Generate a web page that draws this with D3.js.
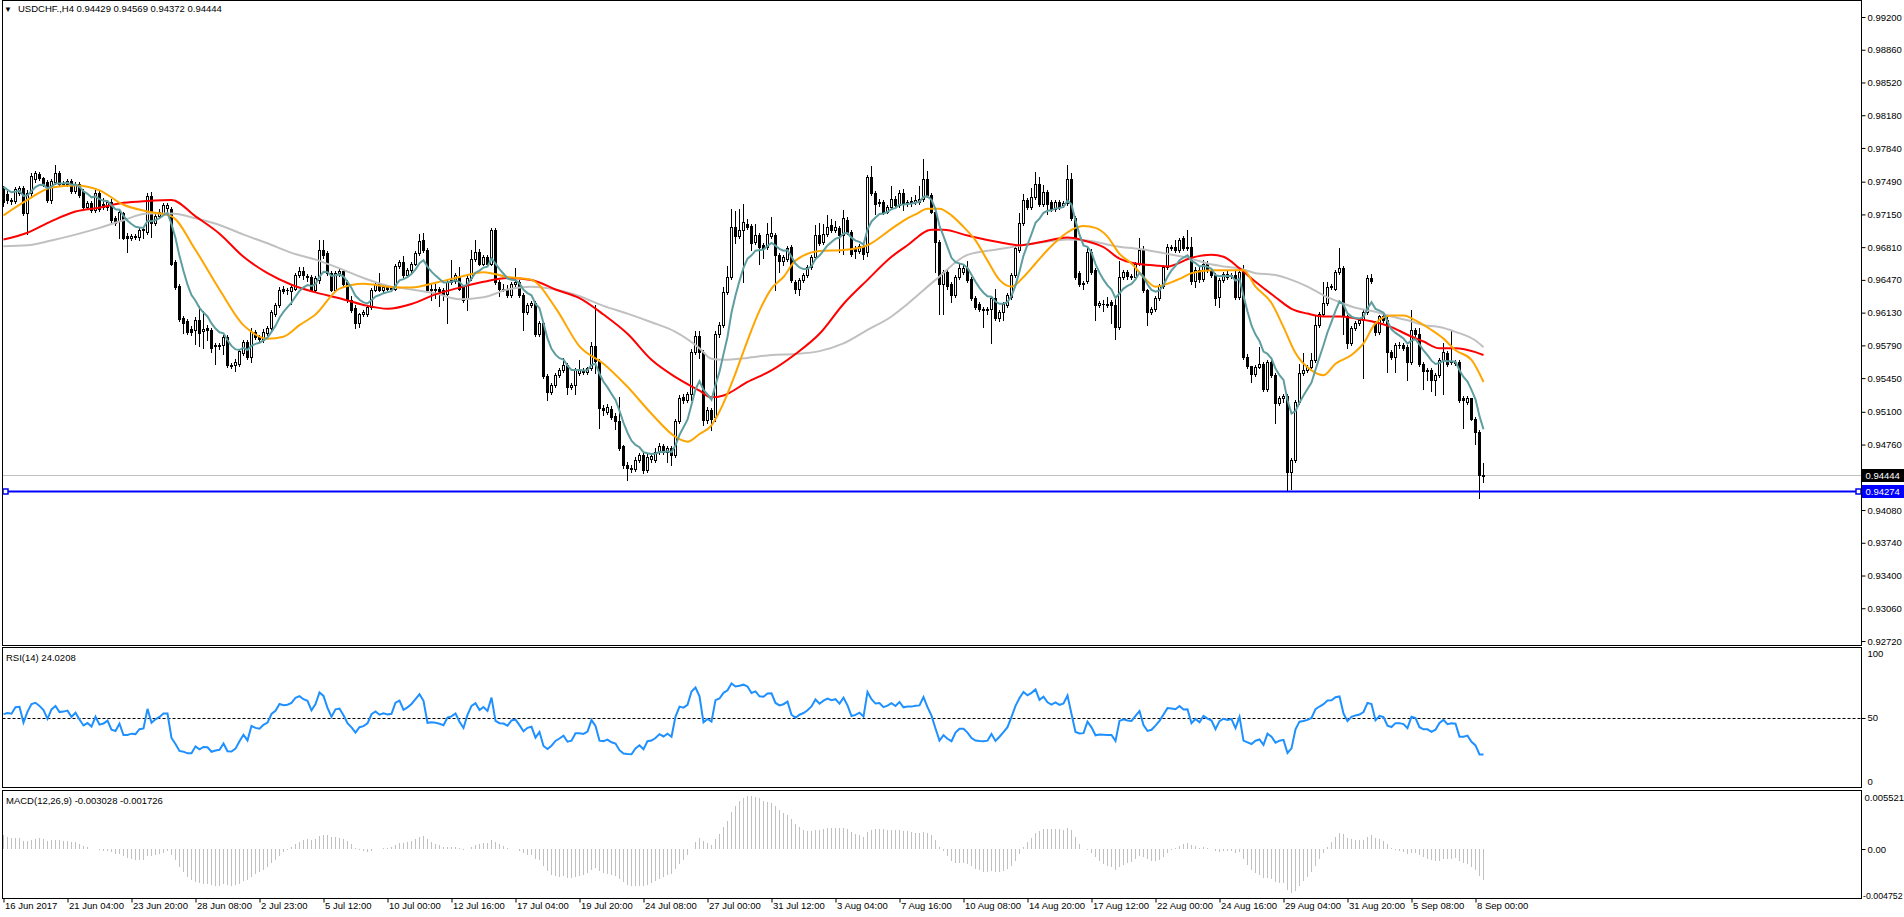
<!DOCTYPE html>
<html><head><meta charset="utf-8">
<script src="https://cdn.jsdelivr.net/npm/d3@7"></script>
<style>
html,body{margin:0;padding:0;background:#fff;}
svg{display:block;}
text{font-family:"Liberation Sans",Arial,sans-serif;font-size:9.5px;fill:#000;}
</style></head><body>
<svg id="c" width="1904" height="917"></svg>
<script>
// ===== DATA (prices x 10000, one entry per H4 bar, oldest first) =====
const opens=[
9741,9736,9730,9729,9737,9742,9716,9737,9752,9757,
9753,9749,9730,9749,9758,9747,9747,9750,9739,9747,
9739,9723,9727,9720,9737,9726,9723,9728,9711,9708,
9716,9693,9691,9693,9692,9699,9697,9734,9706,9713,
9716,9722,9721,9666,9641,9607,9604,9596,9595,9605,
9594,9597,9595,9579,9578,9579,9588,9559,9559,9560,
9571,9583,9567,9593,9588,9585,9592,9597,9612,9621,
9638,9637,9635,9638,9652,9656,9651,9650,9637,9647,
9678,9675,9654,9637,9654,9656,9645,9626,9618,9602,
9612,9612,9619,9637,9643,9637,9640,9638,9638,9661,
9666,9652,9657,9664,9675,9688,9678,9637,9638,9638,
9637,9632,9645,9646,9650,9640,9628,9649,9669,9676,
9664,9671,9664,9699,9645,9638,9637,9631,9643,9645,
9631,9614,9621,9623,9591,9602,9547,9531,9538,9548,
9553,9559,9536,9538,9550,9552,9551,9555,9578,9563,
9514,9510,9513,9506,9500,9474,9455,9452,9451,9460,
9465,9450,9461,9460,9468,9474,9468,9472,9465,9500,
9525,9522,9529,9572,9589,9572,9501,9512,9505,9591,
9600,9634,9650,9702,9693,9699,9705,9703,9686,9694,
9683,9681,9693,9694,9673,9667,9669,9681,9645,9638,
9647,9652,9660,9671,9694,9686,9695,9704,9699,9701,
9694,9709,9697,9680,9677,9682,9676,9754,9737,9727,
9728,9718,9723,9731,9725,9737,9727,9729,9728,9728,
9731,9752,9735,9718,9686,9643,9655,9643,9631,9650,
9655,9659,9648,9628,9622,9617,9616,9617,9628,9607,
9614,9621,9629,9652,9678,9706,9730,9723,9733,9747,
9726,9738,9728,9721,9728,9725,9727,9752,9711,9654,
9643,9646,9676,9657,9621,9622,9622,9624,9621,9598,
9650,9655,9651,9650,9664,9678,9636,9614,9617,9628,
9641,9660,9681,9681,9678,9690,9680,9681,9646,9657,
9648,9664,9657,9652,9629,9647,9653,9651,9652,9629,
9655,9567,9558,9549,9557,9560,9534,9562,9548,9519,
9524,9526,9448,9460,9520,9550,9553,9557,9564,9600,
9612,9623,9640,9638,9655,9659,9609,9581,9597,9602,
9605,9614,9649,9602,9593,9609,9605,9572,9567,9579,
9579,9577,9562,9595,9591,9560,9553,9553,9543,9548,
9564,9571,9562,9562,9562,9524,9520,9524,9503,9489,
9443];
const highs=[
9745,9741,9732,9743,9744,9744,9740,9758,9760,9759,
9754,9751,9752,9766,9760,9750,9752,9752,9749,9749,
9741,9729,9729,9740,9740,9732,9730,9731,9713,9720,
9718,9696,9695,9695,9701,9702,9737,9738,9716,9721,
9727,9727,9723,9668,9643,9609,9606,9599,9608,9620,
9615,9600,9597,9581,9581,9590,9590,9561,9565,9575,
9585,9585,9597,9595,9590,9596,9599,9616,9623,9640,
9641,9639,9642,9654,9660,9660,9653,9652,9651,9688,
9688,9677,9656,9656,9658,9658,9647,9630,9621,9613,
9616,9621,9639,9645,9654,9642,9642,9641,9663,9668,
9672,9659,9666,9677,9695,9696,9680,9643,9643,9640,
9639,9647,9668,9654,9660,9642,9651,9678,9688,9679,
9673,9673,9701,9701,9647,9643,9642,9645,9659,9647,
9633,9623,9625,9625,9604,9604,9549,9540,9550,9555,
9566,9561,9540,9555,9564,9555,9557,9583,9621,9565,
9517,9518,9516,9509,9525,9476,9458,9455,9463,9467,
9467,9466,9467,9472,9478,9477,9475,9474,9503,9527,
9529,9531,9575,9594,9594,9574,9515,9514,9594,9603,
9640,9661,9721,9719,9721,9726,9710,9705,9705,9696,
9685,9706,9712,9696,9675,9673,9682,9683,9647,9649,
9654,9662,9673,9704,9706,9705,9714,9710,9708,9703,
9720,9712,9699,9682,9684,9684,9756,9765,9739,9731,
9730,9725,9745,9734,9740,9741,9730,9733,9735,9745,
9773,9760,9737,9720,9688,9657,9658,9645,9652,9663,
9662,9667,9650,9630,9624,9619,9619,9630,9638,9616,
9624,9633,9654,9682,9716,9736,9732,9742,9759,9754,
9746,9740,9730,9730,9730,9729,9766,9758,9713,9656,
9646,9680,9679,9659,9625,9626,9629,9626,9630,9667,
9657,9657,9653,9666,9691,9682,9638,9619,9630,9643,
9662,9684,9683,9688,9690,9693,9699,9692,9660,9660,
9668,9667,9659,9654,9649,9655,9656,9654,9657,9659,
9662,9570,9558,9559,9577,9562,9564,9566,9550,9526,
9528,9528,9462,9522,9560,9571,9559,9571,9609,9614,
9645,9645,9643,9657,9680,9661,9611,9599,9604,9607,
9616,9652,9653,9604,9611,9611,9611,9574,9581,9582,
9581,9579,9616,9597,9597,9562,9555,9555,9550,9566,
9581,9573,9595,9564,9564,9526,9526,9524,9505,9491,
9457];
const lows=[
9724,9727,9726,9727,9735,9714,9695,9733,9749,9751,
9744,9728,9727,9747,9745,9745,9745,9737,9737,9733,
9721,9721,9718,9717,9719,9721,9720,9707,9704,9690,
9689,9676,9688,9689,9688,9690,9695,9692,9704,9711,
9714,9718,9662,9638,9604,9592,9591,9590,9580,9578,
9576,9585,9572,9560,9575,9570,9557,9555,9552,9558,
9569,9565,9562,9586,9584,9583,9590,9595,9610,9619,
9633,9632,9622,9636,9650,9648,9646,9635,9635,9644,
9670,9652,9635,9635,9651,9641,9624,9614,9597,9598,
9610,9610,9617,9635,9635,9634,9636,9635,9636,9659,
9650,9650,9655,9662,9673,9676,9635,9626,9628,9620,
9626,9602,9643,9644,9636,9624,9616,9647,9667,9662,
9662,9662,9662,9643,9630,9635,9629,9629,9641,9629,
9595,9612,9619,9589,9589,9545,9522,9529,9536,9546,
9551,9529,9534,9529,9548,9549,9549,9553,9550,9493,
9507,9508,9503,9492,9470,9452,9439,9448,9449,9458,
9446,9447,9458,9458,9466,9466,9458,9455,9463,9498,
9519,9520,9522,9570,9566,9496,9498,9491,9500,9588,
9598,9632,9648,9685,9690,9645,9700,9678,9684,9664,
9670,9679,9691,9636,9655,9662,9667,9645,9633,9631,
9645,9650,9658,9669,9683,9684,9693,9697,9697,9676,
9674,9695,9672,9670,9675,9669,9672,9735,9715,9724,
9715,9716,9721,9723,9723,9720,9724,9724,9726,9726,
9729,9733,9716,9655,9612,9612,9638,9624,9629,9648,
9653,9645,9626,9617,9615,9598,9612,9581,9605,9604,
9605,9619,9627,9650,9676,9704,9721,9721,9731,9724,
9724,9715,9719,9719,9721,9723,9725,9709,9648,9641,
9638,9644,9653,9605,9619,9615,9619,9602,9586,9596,
9648,9648,9648,9648,9662,9634,9600,9612,9615,9626,
9639,9658,9678,9676,9676,9678,9678,9643,9640,9645,
9646,9655,9650,9621,9619,9645,9648,9649,9627,9627,
9565,9556,9541,9547,9555,9532,9532,9546,9498,9517,
9520,9428,9430,9458,9518,9548,9551,9555,9562,9598,
9610,9621,9638,9636,9653,9591,9576,9579,9595,9600,
9545,9612,9644,9590,9591,9603,9551,9565,9551,9576,
9574,9543,9560,9589,9558,9534,9543,9532,9527,9546,
9529,9558,9560,9559,9520,9493,9518,9501,9477,9420,
9437];
const closes=[
9728,9730,9729,9741,9742,9716,9737,9755,9758,9753,
9746,9730,9750,9758,9747,9748,9750,9739,9747,9735,
9723,9727,9720,9737,9721,9723,9728,9709,9706,9718,
9691,9691,9693,9692,9699,9700,9734,9706,9713,9718,
9725,9725,9664,9640,9606,9602,9593,9593,9605,9592,
9596,9595,9576,9578,9579,9588,9559,9558,9562,9573,
9583,9567,9593,9588,9586,9593,9597,9614,9621,9637,
9635,9636,9640,9652,9656,9652,9650,9637,9649,9678,
9673,9654,9637,9654,9656,9643,9626,9616,9602,9612,
9614,9619,9637,9643,9637,9640,9638,9639,9661,9666,
9652,9657,9664,9675,9687,9678,9637,9638,9637,9635,
9632,9645,9647,9652,9638,9626,9649,9669,9676,9664,
9671,9664,9699,9645,9638,9637,9631,9643,9645,9631,
9614,9621,9623,9591,9602,9547,9531,9538,9548,9553,
9559,9536,9538,9553,9553,9551,9555,9578,9563,9514,
9512,9515,9505,9500,9472,9455,9452,9451,9460,9465,
9450,9463,9464,9468,9474,9468,9472,9465,9500,9524,
9522,9529,9572,9589,9572,9501,9512,9503,9591,9600,
9634,9650,9702,9693,9699,9707,9702,9685,9694,9681,
9680,9695,9696,9673,9667,9671,9680,9647,9638,9647,
9652,9660,9671,9694,9685,9695,9702,9699,9702,9694,
9711,9697,9674,9677,9682,9674,9754,9737,9726,9728,
9718,9723,9731,9725,9737,9726,9728,9728,9730,9731,
9752,9735,9718,9686,9643,9655,9641,9631,9650,9659,
9659,9647,9628,9619,9617,9616,9617,9628,9607,9614,
9622,9631,9652,9680,9706,9730,9723,9733,9747,9726,
9738,9726,9721,9728,9723,9727,9752,9711,9650,9643,
9644,9676,9655,9621,9623,9622,9621,9621,9598,9650,
9655,9651,9650,9664,9678,9636,9614,9617,9628,9641,
9660,9681,9680,9678,9688,9680,9681,9646,9657,9648,
9664,9657,9652,9628,9647,9653,9650,9652,9629,9655,
9567,9558,9549,9557,9560,9534,9562,9548,9519,9524,
9526,9448,9460,9520,9550,9553,9557,9564,9600,9612,
9623,9640,9641,9655,9659,9609,9581,9597,9602,9605,
9614,9649,9646,9593,9609,9605,9572,9567,9579,9579,
9576,9562,9595,9591,9560,9552,9552,9543,9548,9564,
9572,9560,9562,9561,9522,9522,9524,9503,9489,9444,
9444];

// moving averages: [bar index, price x 10000]
const maOrange=[[0,9714],[6,9730],[12,9743],[18,9745],[24,9740],[30,9725],[36,9718],[42,9713],[48,9678],[54,9637],[60,9600],[62,9593],[66,9586],[70,9588],[74,9600],[78,9611],[84,9638],[90,9643],[96,9640],[102,9639],[108,9644],[114,9650],[120,9655],[126,9650],[132,9647],[138,9618],[144,9578],[150,9560],[156,9536],[162,9508],[168,9484],[171,9479],[174,9487],[177,9496],[180,9519],[183,9550],[186,9584],[189,9615],[192,9638],[195,9650],[198,9667],[204,9677],[210,9678],[216,9683],[222,9700],[226,9711],[228,9715],[231,9721],[234,9721],[237,9714],[240,9702],[243,9688],[246,9667],[249,9647],[252,9640],[255,9650],[258,9664],[261,9678],[264,9690],[267,9699],[270,9703],[273,9701],[276,9692],[279,9674],[282,9664],[285,9650],[288,9640],[291,9643],[294,9648],[297,9654],[302,9657],[307,9657],[310,9657],[313,9640],[317,9623],[320,9598],[323,9571],[327,9553],[330,9548],[333,9560],[337,9569],[340,9581],[343,9602],[347,9610],[350,9610],[353,9605],[357,9595],[360,9586],[363,9574],[367,9564],[370,9541]];
const maRed=[[0,9689],[6,9696],[12,9708],[18,9718],[24,9722],[30,9727],[36,9729],[42,9730],[48,9713],[54,9695],[60,9671],[66,9654],[72,9642],[78,9634],[84,9628],[90,9621],[96,9617],[102,9622],[108,9632],[114,9639],[120,9645],[126,9649],[132,9647],[138,9637],[144,9628],[150,9611],[156,9591],[162,9564],[168,9546],[174,9532],[177,9525],[180,9527],[186,9541],[192,9553],[198,9570],[204,9591],[210,9622],[216,9647],[222,9671],[226,9683],[232,9699],[235,9699],[241,9693],[249,9686],[254,9683],[259,9686],[266,9691],[270,9688],[275,9681],[279,9669],[283,9664],[288,9662],[291,9661],[297,9670],[302,9673],[305,9671],[309,9659],[313,9645],[318,9629],[322,9617],[326,9612],[330,9609],[334,9609],[338,9607],[343,9603],[347,9598],[351,9590],[355,9583],[359,9576],[363,9576],[368,9572],[370,9569]];
const maGrey=[[0,9682],[6,9683],[12,9688],[18,9694],[24,9701],[30,9709],[36,9716],[42,9716],[48,9711],[54,9704],[60,9694],[66,9685],[72,9675],[78,9668],[84,9659],[90,9649],[96,9641],[102,9637],[108,9633],[114,9627],[120,9629],[126,9637],[132,9640],[138,9637],[144,9630],[150,9620],[156,9612],[162,9603],[168,9593],[174,9576],[177,9565],[180,9564],[186,9566],[192,9569],[198,9570],[204,9573],[210,9581],[216,9595],[222,9609],[226,9622],[233,9647],[241,9673],[249,9679],[258,9685],[266,9689],[271,9688],[278,9682],[284,9679],[291,9674],[297,9669],[301,9664],[305,9661],[309,9659],[313,9654],[318,9652],[322,9647],[326,9640],[330,9631],[334,9624],[338,9618],[343,9614],[347,9609],[351,9605],[355,9600],[359,9598],[363,9593],[368,9584],[370,9577]];

const priceTicks=[0.99200,0.98860,0.98520,0.98180,0.97840,0.97490,0.97150,0.96810,0.96470,0.96130,0.95790,0.95450,0.95100,0.94760,0.94080,0.93740,0.93400,0.93060,0.92720];
const timeLabels=["16 Jun 2017","21 Jun 04:00","23 Jun 20:00","28 Jun 08:00","2 Jul 23:00","5 Jul 12:00","10 Jul 00:00","12 Jul 16:00","17 Jul 04:00","19 Jul 20:00","24 Jul 08:00","27 Jul 00:00","31 Jul 12:00","3 Aug 04:00","7 Aug 16:00","10 Aug 08:00","14 Aug 20:00","17 Aug 12:00","22 Aug 00:00","24 Aug 16:00","29 Aug 04:00","31 Aug 20:00","5 Sep 08:00","8 Sep 00:00"];
const timeLabelBars=[0,16,32,48,64,80,96,112,128,144,160,176,192,208,224,240,256,272,288,304,320,336,352,368];
const rsiLabels=[["100",100],["50",50],["0",0]];
const macdLabels=["0.005521","0.00","-0.004752"];
const macdRange=[-0.004752,0.005521];
const bidPrice=0.94444, hLinePrice=0.94274;
const header="USDCHF.,H4  0.94429 0.94569 0.94372 0.94444";
const rsiTitle="RSI(14) 24.0208";
const macdTitle="MACD(12,26,9) -0.003028 -0.001726";
const tealStart=0.9748, rsiStart={gain:0.00055,loss:0.00040}, macdStart={e12:0.97370,e26:0.97225};

// ===== DRAWING =====
const svg=d3.select('#c');
const P=v=>v/1e4;
const n=closes.length;
const L=2.5,R=1861.5;
const mainP={t:0.5,b:645.5}, rsiP={t:647.5,b:787.5}, macdP={t:790.5,b:898.5};

const x=d3.scaleLinear().domain([0,1]).range([3.5,7.5]);
const y=d3.scaleLinear().domain([0.9272,0.992]).range([641,17]);
const yR=d3.scaleLinear().domain([0,100]).range([788,647]);
const yM=d3.scaleLinear().domain(macdRange).range([898,791]);

const defs=svg.append('defs');
[['cm',mainP],['cr',rsiP],['cd',macdP]].forEach(([id,p])=>{
  defs.append('clipPath').attr('id',id).append('rect').attr('x',L+0.5).attr('y',p.t+0.5).attr('width',R-L-1).attr('height',p.b-p.t-1);
});

// panels
[mainP,rsiP,macdP].forEach(p=>{
  svg.append('rect').attr('x',L).attr('y',p.t).attr('width',R-L).attr('height',p.b-p.t)
    .attr('fill','none').attr('stroke','#000').attr('stroke-width',1);
});

const gMain=svg.append('g').attr('clip-path','url(#cm)');

// bid line
gMain.append('line').attr('x1',L).attr('x2',R).attr('y1',Math.round(y(bidPrice))+0.5).attr('y2',Math.round(y(bidPrice))+0.5)
  .attr('stroke','#c0c0c0').attr('stroke-width',1);

// candles
const bars=d3.range(n).map(i=>{
  const o=P(opens[i]),c=P(closes[i]);
  return {i,o,c,h:Math.max(P(highs[i]),o,c),l:Math.min(P(lows[i]),o,c)};
});
const gc=gMain.append('g');
gc.selectAll('line.w').data(bars).join('line').attr('class','w')
  .attr('x1',d=>x(d.i)).attr('x2',d=>x(d.i))
  .attr('y1',d=>Math.round(y(d.h))).attr('y2',d=>Math.round(y(d.l))+1)
  .attr('stroke','#000').attr('stroke-width',1);
bars.forEach(d=>{
  const cx=x(d.i);
  const yt=Math.round(y(Math.max(d.o,d.c))), yb=Math.round(y(Math.min(d.o,d.c)));
  if(d.c<d.o){
    gc.append('rect').attr('x',cx-1.5).attr('y',yt).attr('width',3).attr('height',Math.max(1,yb-yt+1)).attr('fill','#000');
  }else if(d.c>d.o){
    gc.append('rect').attr('x',cx-1).attr('y',yt+0.5).attr('width',2).attr('height',Math.max(1,yb-yt))
      .attr('fill','#fff').attr('stroke','#000').attr('stroke-width',1);
  }else{
    gc.append('line').attr('x1',cx-1.5).attr('x2',cx+1.5).attr('y1',yt+0.5).attr('y2',yt+0.5).attr('stroke','#000');
  }
});

// moving averages
const maLine=d3.line().x(d=>x(d[0])).y(d=>y(P(d[1]))).curve(d3.curveMonotoneX);
gMain.append('path').attr('d',maLine(maGrey)).attr('fill','none').attr('stroke','#c0c0c0').attr('stroke-width',2);
gMain.append('path').attr('d',maLine(maRed)).attr('fill','none').attr('stroke','#ff0000').attr('stroke-width',2);
gMain.append('path').attr('d',maLine(maOrange)).attr('fill','none').attr('stroke','#ffa500').attr('stroke-width',2);
// fast EMA(8) of closes
const teal=[]; {let e=tealStart; const a=2/9; closes.forEach((c,i)=>{e=e+a*(P(c)-e); teal.push([i,e]);});}
gMain.append('path').attr('d',d3.line().x(d=>x(d[0])).y(d=>y(d[1]))(teal)).attr('fill','none').attr('stroke','#5f9ea0').attr('stroke-width',2);

// horizontal line object
const yh=Math.round(y(hLinePrice))+0.5;
gMain.append('line').attr('x1',L).attr('x2',R).attr('y1',yh).attr('y2',yh).attr('stroke','#0000ff').attr('stroke-width',2);
[5.5,1858.5].forEach(cx=>gMain.append('rect').attr('x',cx-2.5).attr('y',yh-2.5).attr('width',5).attr('height',5).attr('fill','#fff').attr('stroke','#0000ff').attr('stroke-width',1.5));

// price axis
const axY=svg.append('g').attr('transform',`translate(${R},0)`)
  .call(d3.axisRight(y).tickValues(priceTicks).tickFormat(d3.format('.5f')).tickSize(4).tickPadding(2));
axY.select('.domain').remove();
axY.selectAll('text').style('font-family','"Liberation Sans",Arial,sans-serif').style('font-size','9.5px').attr('fill','#000');
axY.selectAll('line').attr('stroke','#000');

// price tags
function tag(price,bg,label){
  const yy=Math.round(y(price))+0.5;
  svg.append('rect').attr('x',R+0.5).attr('y',yy-6.5).attr('width',1904-R).attr('height',13).attr('fill',bg);
  svg.append('text').attr('x',R+4).attr('y',yy).attr('dy','0.35em').attr('fill','#fff').style('fill','#fff').text(label);
}
tag(bidPrice,'#000','0.94444');
tag(hLinePrice,'#0000ff','0.94274');

// header
svg.append('text').attr('x',4).attr('y',12).style('font-size','8px').text('▼');
svg.append('text').attr('x',18).attr('y',12).text(header);

// RSI(14)
const rsi=[]; {let ag=rsiStart.gain, al=rsiStart.loss, prev=P(opens[0]);
  closes.forEach((c,i)=>{const d=P(c)-prev; prev=P(c); ag=(ag*13+Math.max(d,0))/14; al=(al*13+Math.max(-d,0))/14; rsi.push([i, al===0?100:100-100/(1+ag/al)]);});}
const gR=svg.append('g').attr('clip-path','url(#cr)');
gR.append('line').attr('x1',L).attr('x2',R).attr('y1',Math.round(yR(50))+0.5).attr('y2',Math.round(yR(50))+0.5)
  .attr('stroke','#000').attr('stroke-dasharray','3,2');
gR.append('path').attr('d',d3.line().x(d=>x(d[0])).y(d=>yR(d[1]))(rsi)).attr('fill','none').attr('stroke','#1e90ff').attr('stroke-width',2);
svg.append('text').attr('x',6).attr('y',661).text(rsiTitle);
svg.append('line').attr('x1',R).attr('x2',R+4).attr('y1',Math.round(yR(50))+0.5).attr('y2',Math.round(yR(50))+0.5).attr('stroke','#000');
svg.append('text').attr('x',R+6).attr('y',657).text(rsiLabels[0][0]);
svg.append('text').attr('x',R+6).attr('y',yR(50)).attr('dy','0.35em').text(rsiLabels[1][0]);
svg.append('text').attr('x',R+6).attr('y',785).text(rsiLabels[2][0]);

// MACD(12,26,9)
const macd=[]; {let e12=macdStart.e12,e26=macdStart.e26;
  closes.forEach((c,i)=>{e12+=(P(c)-e12)*2/13; e26+=(P(c)-e26)*2/27; macd.push([i,e12-e26]);});}
const gD=svg.append('g').attr('clip-path','url(#cd)');
const y0=Math.round(yM(0));
gD.selectAll('line').data(macd).join('line')
  .attr('x1',d=>x(d[0])).attr('x2',d=>x(d[0]))
  .attr('y1',y0).attr('y2',d=>Math.round(yM(d[1])))
  .attr('stroke','#c0c0c0').attr('stroke-width',1);
svg.append('text').attr('x',6).attr('y',804).text(macdTitle);
svg.append('line').attr('x1',R).attr('x2',R+4).attr('y1',y0+0.5).attr('y2',y0+0.5).attr('stroke','#000');
svg.append('text').attr('x',R+3).attr('y',801).text(macdLabels[0]);
svg.append('text').attr('x',R+6).attr('y',y0+0.5).attr('dy','0.35em').text(macdLabels[1]);
svg.append('text').attr('x',R+1.5).attr('y',899).style('font-size','8.8px').text(macdLabels[2]);

// time axis
const axX=svg.append('g').attr('transform',`translate(0,${macdP.b})`)
  .call(d3.axisBottom(x).tickValues(timeLabelBars).tickFormat((d,i)=>timeLabels[i]).tickSize(4).tickPadding(2));
axX.select('.domain').remove();
axX.selectAll('line').attr('stroke','#000');
axX.selectAll('text').attr('text-anchor','start').attr('x',1).attr('y',4).attr('dy','0.71em')
  .style('font-family','"Liberation Sans",Arial,sans-serif').style('font-size','9.5px').attr('fill','#000');
</script>
</body></html>
